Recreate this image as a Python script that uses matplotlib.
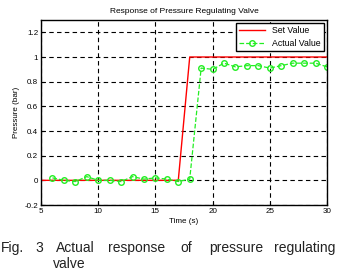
import matplotlib
matplotlib.use("Agg")
import matplotlib.pyplot as plt

plt.rcParams["font.family"] = ["Liberation Sans", "DejaVu Sans"]

time = list(range(5, 31))
set_value = [0] * 13 + [1] * 13
actual_time = list(range(6, 31))
actual_value = [0.02, 0.00, -0.01, 0.03, 0.00, 0.00, -0.01, 0.03, 0.01, 0.02,
                0.01, -0.01, 0.01, 0.91, 0.90, 0.95, 0.92, 0.93, 0.93, 0.91,
                0.93, 0.95, 0.95, 0.95, 0.92]

x_ticks = [5, 10, 15, 20, 25, 30]
y_ticks = [-0.2, 0, 0.2, 0.4, 0.6, 0.8, 1, 1.2]
y_tick_labels = ["-0.2", "0", "0.2", "0.4", "0.6", "0.8", "1", "1.2"]

caption_words = ["Fig.", "3", "Actual", "response", "of", "pressure", "regulating"]
caption_x = [1, 35, 56, 108, 180, 209, 274]

fig = plt.figure(figsize=(3.37, 2.70), dpi=100)
ax = fig.add_axes([41 / 337, 65 / 270, 286 / 337, 185 / 270])

ax.plot(time, set_value, color="red", linewidth=1.0, label="Set Value")
ax.plot(actual_time, actual_value, color="#22ee22", linestyle="--",
        linewidth=0.9, marker="o", markersize=4, markerfacecolor="none",
        markeredgewidth=1.0, label="Actual Value")

ax.set_xlim(5, 30)
ax.set_ylim(-0.2, 1.3)
ax.set_xticks(x_ticks)
ax.set_yticks(y_ticks)
ax.set_yticklabels(y_tick_labels)
ax.tick_params(direction="in", length=2, labelsize=5.8, pad=2)
ax.grid(True, color="black", linestyle=(0, (4, 3)), linewidth=0.8)
for s in ax.spines.values():
    s.set_linewidth(1.0)

ax.set_title("Response of Pressure Regulating Valve", fontsize=6, pad=5)
ax.set_xlabel("Time (s)", fontsize=5.8, labelpad=2)
ax.set_ylabel("Pressure (bar)", fontsize=5.8, labelpad=3)

leg = ax.legend(loc="upper right", fontsize=6.3, fancybox=False,
                edgecolor="black", framealpha=1, borderaxespad=0.3,
                handlelength=3, borderpad=0.4, labelspacing=0.4)
leg.get_frame().set_linewidth(1.0)

for word, x in zip(caption_words, caption_x):
    fig.text(x / 337, 1 - 252 / 270, word, fontsize=10, color="#222222",
             ha="left", va="baseline")
fig.text(53 / 337, 1 - 268 / 270, "valve", fontsize=10, color="#222222",
         ha="left", va="baseline")

fig.savefig("out.png", dpi=100)
